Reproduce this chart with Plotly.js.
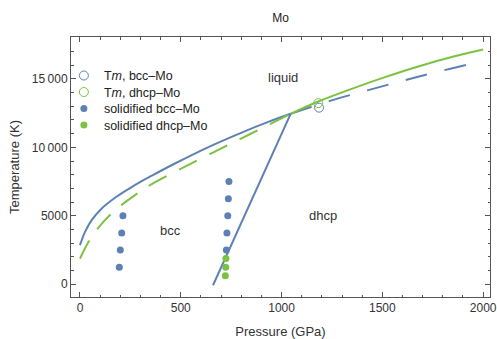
<!DOCTYPE html>
<html>
<head>
<meta charset="utf-8">
<script src="https://cdn.plot.ly/plotly-3.0.1.min.js"></script>
<style>html,body{margin:0;padding:0;background:#fff;}#chart{width:497px;height:339px;}</style>
</head>
<body>
<div id="chart"></div>
<script>
// Melting curve of bcc-Mo (solid part, below triple point)
var bccMeltP = [0, 25, 58, 108, 174, 240, 306, 356, 471, 637, 802, 934, 1045];
var bccMeltT = [2855, 3830, 4685, 5540, 6320, 6950, 7530, 7930, 8820, 10020, 11080, 11860, 12450];
// Metastable bcc melting (dashed, above triple point)
var bccMetaP = [1045, 1240, 1430, 1596, 1761, 1956, 2000];
var bccMetaT = [12450, 13397, 14180, 14840, 15470, 16160, 16315];
// Metastable dhcp melting (dashed, below triple point)
var dhcpMetaP = [0, 50, 116, 190, 273, 356, 521, 686, 852, 1045];
var dhcpMetaT = [1880, 3280, 4560, 5600, 6515, 7310, 8590, 9810, 11030, 12450];
// dhcp melting (solid, above triple point)
var dhcpMeltP = [1045, 1182, 1348, 1513, 1678, 1844, 2000];
var dhcpMeltT = [12450, 13346, 14275, 15130, 15910, 16595, 17140];
// bcc-dhcp phase boundary
var boundaryP = [660, 1045];
var boundaryT = [-70, 12450];
// Tm points
var tmBccP = [1186], tmBccT = [12900];
var tmDhcpP = [1182], tmDhcpT = [13230];
// Solidified points
var solBccP = [195, 200, 207, 213, 726, 729, 733, 736, 739];
var solBccT = [1250, 2500, 3750, 5000, 2500, 3750, 5000, 6250, 7500];
var solDhcpP = [721, 723, 724];
var solDhcpT = [625, 1250, 1875];
// Axis ticks
var xTicks = [0, 500, 1000, 1500, 2000];
var xTickText = ['0', '500', '1000', '1500', '2000'];
var yTicks = [0, 5000, 10000, 15000];
var yTickText = ['0', '5000', '10\u2009000', '15\u2009000'];
// Region labels
var labelText = ['liquid', 'bcc', 'dhcp'];
var labelP = [1007, 450, 1205];
var labelT = [15080, 3950, 5050];
// Legend entries
var legendNames = ['T<i>m</i>, bcc\u2013Mo', 'T<i>m</i>, dhcp\u2013Mo', 'solidified bcc\u2013Mo', 'solidified dhcp\u2013Mo'];

var BLUE = '#5E81B5', GREEN = '#7CC242';
var FONT = '"Liberation Sans", Arial, sans-serif';

var traces = [
  {x: bccMeltP, y: bccMeltT, mode: 'lines', line: {color: BLUE, width: 2, shape: 'spline', smoothing: 1}, showlegend: false, hoverinfo: 'skip'},
  {x: bccMetaP, y: bccMetaT, mode: 'lines', line: {color: BLUE, width: 2, dash: '22px,18px', shape: 'spline', smoothing: 1}, showlegend: false, hoverinfo: 'skip'},
  {x: dhcpMetaP, y: dhcpMetaT, mode: 'lines', line: {color: GREEN, width: 2, dash: '20px,14px', shape: 'spline', smoothing: 1}, showlegend: false, hoverinfo: 'skip'},
  {x: dhcpMeltP, y: dhcpMeltT, mode: 'lines', line: {color: GREEN, width: 2, shape: 'spline', smoothing: 1}, showlegend: false, hoverinfo: 'skip'},
  {x: boundaryP, y: boundaryT, mode: 'lines', line: {color: BLUE, width: 2}, showlegend: false, hoverinfo: 'skip'},
  {x: tmBccP, y: tmBccT, mode: 'markers', name: legendNames[0], legend: 'legend', marker: {symbol: 'circle-open', size: 9, color: BLUE, line: {width: 1}}},
  {x: tmDhcpP, y: tmDhcpT, mode: 'markers', name: legendNames[1], legend: 'legend2', marker: {symbol: 'circle-open', size: 9, color: GREEN, line: {width: 1}}},
  {x: solBccP, y: solBccT, mode: 'markers', name: legendNames[2], legend: 'legend3', marker: {symbol: 'circle', size: 7, color: BLUE}},
  {x: solDhcpP, y: solDhcpT, mode: 'markers', name: legendNames[3], legend: 'legend4', marker: {symbol: 'circle', size: 7, color: GREEN}}
];

var annotations = labelText.map(function (t, i) {
  return {x: labelP[i], y: labelT[i], xref: 'x', yref: 'y', text: t, showarrow: false, font: {family: FONT, size: 13, color: '#333'}};
});

var axisCommon = {
  showline: true, linecolor: '#555', linewidth: 1, mirror: 'ticks',
  ticks: 'inside', ticklen: 5, tickcolor: '#555', tickwidth: 1,
  showgrid: false, zeroline: false,
  tickfont: {family: FONT, size: 12, color: '#333'}
};

function legendAt(yPaper) {
  return {x: -0.017, y: yPaper, xanchor: 'left', yanchor: 'middle', bgcolor: 'rgba(0,0,0,0)',
          font: {family: FONT, size: 12.5, color: '#222'}, itemwidth: 30};
}

var layout = {
  width: 497, height: 339,
  margin: {l: 71, r: 7, t: 37, b: 42, pad: 0},
  paper_bgcolor: '#fff', plot_bgcolor: '#fff',
  font: {family: FONT, size: 12, color: '#333'},
  title: {text: 'Mo', x: 0.5, xref: 'paper', y: 0.947, yref: 'container', yanchor: 'middle', font: {family: FONT, size: 12, color: '#222'}},
  xaxis: Object.assign({}, axisCommon, {
    range: [-44.6, 2034], tickvals: xTicks, ticktext: xTickText,
    minor: {ticks: 'inside', ticklen: 2.5, tickcolor: '#555', dtick: 100, tick0: 0, showgrid: false},
    title: {text: 'Pressure (GPa)', standoff: 12, font: {family: FONT, size: 13, color: '#333'}}
  }),
  yaxis: Object.assign({}, axisCommon, {
    range: [-930, 18060], tickvals: yTicks, ticktext: yTickText,
    minor: {ticks: 'inside', ticklen: 2.5, tickcolor: '#555', dtick: 1000, tick0: 0, showgrid: false},
    title: {text: 'Temperature (K)', standoff: 9, font: {family: FONT, size: 13, color: '#333'}}
  }),
  legend: legendAt(0.8504),
  legend2: legendAt(0.7870),
  legend3: legendAt(0.7235),
  legend4: legendAt(0.6600),
  annotations: annotations,
  showlegend: true
};

Plotly.newPlot('chart', traces, layout, {displayModeBar: false, staticPlot: true});
</script>
</body>
</html>
